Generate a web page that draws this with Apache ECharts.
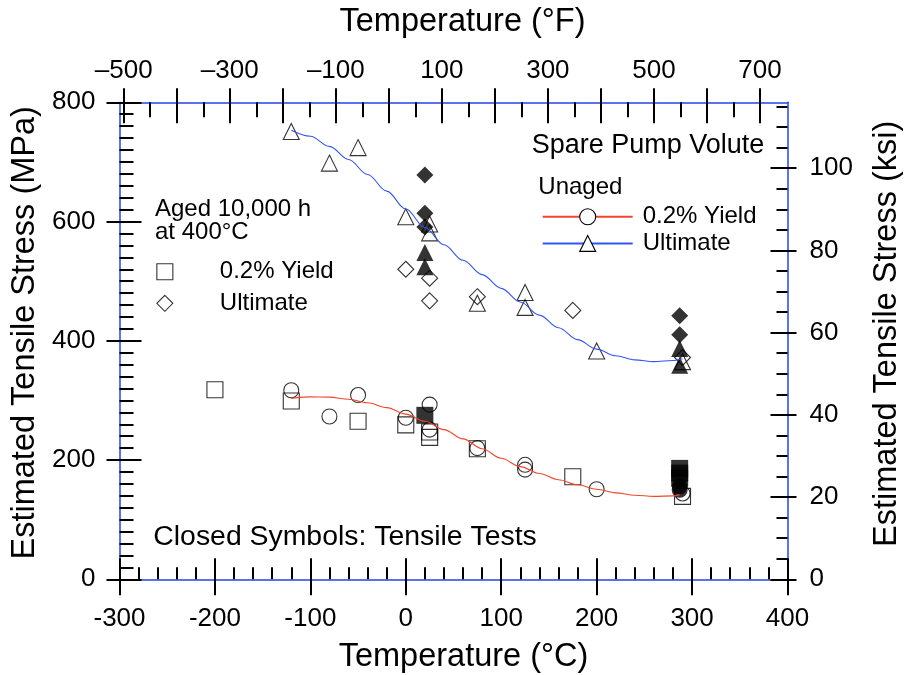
<!DOCTYPE html>
<html>
<head>
<meta charset="utf-8">
<script src="https://cdn.jsdelivr.net/npm/echarts@6/dist/echarts.min.js"></script>
<style>
  html, body { margin: 0; padding: 0; background: #fff; }
  #chart { width: 906px; height: 675px; }
</style>
</head>
<body>
<div id="chart"></div>
<script>
// Temperatures in °C, stresses in MPa.

// Unaged, 0.2% yield (open circles)
const unagedYieldC   = [-120, -80, -50, 0, 25, 25, 75, 125, 125, 200, 290];
const unagedYieldMPa = [317, 273, 309, 271, 293, 251, 220, 192, 184, 151, 144];
// Unaged, ultimate (open triangles)
const unagedUltC   = [-120, -80, -50, 0, 25, 25, 75, 125, 125, 200, 290];
const unagedUltMPa = [751, 698, 724, 608, 596, 581, 463, 481, 456, 383, 365];
// Aged 10,000 h at 400°C, 0.2% yield (open squares)
const agedYieldC   = [-200, -120, -50, 0, 25, 25, 75, 175, 290];
const agedYieldMPa = [318, 299, 265, 259, 247, 238, 219, 172, 139];
// Aged 10,000 h at 400°C, ultimate (open diamonds)
const agedUltC   = [0, 25, 25, 75, 175, 290];
const agedUltMPa = [520, 505, 467, 474, 451, 372];

// Tensile tests (closed symbols)
const ttAgedUltC     = [20, 20, 20, 287, 287];
const ttAgedUltMPa   = [678, 614, 591, 442, 410];
const ttUnagedUltC   = [20, 20, 287, 287];
const ttUnagedUltMPa = [548, 524, 387, 359];
const ttAgedYieldC   = [20, 287, 287, 287];
const ttAgedYieldMPa = [275, 186, 178, 170];
const ttUnagedYieldC   = [287, 287];
const ttUnagedYieldMPa = [150, 156];

// Fitted trend curves for the unaged material
const yieldFitC   = [-120, -100, -80, -60, -40, -20, 0, 20, 40, 60, 80, 100, 120, 140, 160, 180, 200, 220, 240, 260, 280, 287];
const yieldFitMPa = [303.5, 306, 305.5, 302, 296, 288, 277, 265, 251, 235.5, 219, 203, 189, 177.5, 167, 158.5, 151, 145, 141, 139, 140, 142];
const ultFitC   = [-120, -100, -80, -60, -40, -20, 0, 20, 40, 60, 80, 100, 120, 140, 160, 180, 200, 220, 240, 260, 280, 290];
const ultFitMPa = [753, 743, 726, 704, 679, 651, 621, 590, 561, 535, 511, 488, 465, 443, 422, 402, 386, 375, 368, 365, 367, 370];

// Axis ticks
const fahrenheitLabels = [-500, -300, -100, 100, 300, 500, 700];
const fahrenheitMajor  = [-500, -400, -300, -200, -100, 0, 100, 200, 300, 400, 500, 600, 700];
const fahrenheitMinor  = [-450, -350, -250, -150, -50, 50, 150, 250, 350, 450, 550, 650];
const ksiLabels = [0, 20, 40, 60, 80, 100];
const ksiMinor  = [5, 10, 15, 25, 30, 35, 45, 50, 55, 65, 70, 75, 85, 90, 95, 105, 110, 115];

const C_MIN = -300, C_MAX = 400, MPA_MAX = 800;
const MPA_PER_KSI = 6.894757;

const FONT = '"Liberation Sans", Arial, Helvetica, sans-serif';
const AXIS_BLUE = '#2244ee';
const FIT_BLUE = '#3355ee';
const FIT_RED = '#f2462c';
const TITLE_SIZE = 32.5;
const tickLine = { color: '#000', width: 2 };
const blueLine = { show: true, onZero: false, lineStyle: { color: AXIS_BLUE, width: 1.5 } };
const noLine = { show: false, onZero: false };

const zip = (xs, ys) => xs.map((x, i) => [x, ys[i]]);
const stripPrefix = name => name.replace(/^\S+\s/, '');

function openScatter(name, xs, ys, symbol, size) {
  return {
    type: 'scatter', name, symbol, symbolSize: size, data: zip(xs, ys), silent: true,
    itemStyle: { color: 'rgba(0,0,0,0)', borderColor: '#000', borderWidth: 1.1 }
  };
}
function filledScatter(name, xs, ys, symbol, size) {
  return {
    type: 'scatter', name, symbol, symbolSize: size, data: zip(xs, ys), silent: true,
    itemStyle: { color: '#000' }
  };
}
function fitLine(name, xs, ys, color, symbol) {
  return {
    type: 'line', name, data: zip(xs, ys), smooth: 0.35, smoothMonotone: 'x',
    showSymbol: false, symbol, silent: true,
    lineStyle: { color, width: 1.1 }, itemStyle: { color }
  };
}
function titleStyle(shift) {
  return { fontSize: TITLE_SIZE, color: '#000', fontFamily: FONT, padding: [0, 0, 0, shift] };
}

const chart = echarts.init(document.getElementById('chart'), null, { renderer: 'canvas' });

chart.setOption({
  animation: false,
  backgroundColor: '#fff',
  textStyle: { fontFamily: FONT, color: '#000' },
  grid: { left: 119.5, right: 118.5, top: 102.3, bottom: 95.7, containLabel: false, outerBoundsMode: 'none' },
  xAxis: [
    { // °C, bottom
      type: 'value', position: 'bottom', min: C_MIN, max: C_MAX, interval: 100,
      axisLine: blueLine,
      axisTick: { show: true, inside: true, length: 21, lineStyle: tickLine },
      minorTick: { show: true, splitNumber: 5, length: 12, lineStyle: tickLine },
      splitLine: { show: false }, minorSplitLine: { show: false },
      axisLabel: { fontSize: 26, color: '#000', margin: 27, fontFamily: FONT },
      name: 'Temperature (°C)', nameLocation: 'middle', nameGap: 61.5,
      nameTextStyle: titleStyle(20)
    },
    { // outward half of the °C major ticks
      type: 'value', position: 'bottom', min: C_MIN, max: C_MAX, interval: 100,
      axisLine: noLine,
      axisTick: { show: true, inside: false, length: 16, lineStyle: tickLine },
      axisLabel: { show: false }, splitLine: { show: false }
    },
    { // °F, top
      type: 'value', position: 'top', min: C_MIN * 1.8 + 32, max: C_MAX * 1.8 + 32,
      axisLine: blueLine,
      axisTick: { show: true, inside: true, length: 21, customValues: fahrenheitMajor, lineStyle: tickLine },
      axisLabel: {
        customValues: fahrenheitLabels, fontSize: 26, color: '#000', margin: 18, fontFamily: FONT,
        formatter: v => (v < 0 ? '\u2013' + Math.abs(v) : String(v))
      },
      splitLine: { show: false },
      name: 'Temperature (°F)', nameLocation: 'middle', nameGap: 64,
      nameTextStyle: titleStyle(18)
    },
    { // outward half of the °F major ticks
      type: 'value', position: 'top', min: C_MIN * 1.8 + 32, max: C_MAX * 1.8 + 32,
      axisLine: noLine,
      axisTick: { show: true, inside: false, length: 14, customValues: fahrenheitMajor, lineStyle: tickLine },
      axisLabel: { show: false }, splitLine: { show: false }
    },
    { // °F half-step ticks
      type: 'value', position: 'top', min: C_MIN * 1.8 + 32, max: C_MAX * 1.8 + 32,
      axisLine: noLine,
      axisTick: { show: true, inside: true, length: 15, customValues: fahrenheitMinor, lineStyle: tickLine },
      axisLabel: { show: false }, splitLine: { show: false }
    }
  ],
  yAxis: [
    { // MPa, left
      type: 'value', position: 'left', min: 0, max: MPA_MAX, interval: 200,
      axisLine: blueLine,
      axisTick: { show: true, inside: true, length: 22, lineStyle: tickLine },
      minorTick: { show: true, splitNumber: 10, length: 14, lineStyle: tickLine },
      splitLine: { show: false }, minorSplitLine: { show: false },
      axisLabel: { fontSize: 26, color: '#000', margin: 24, fontFamily: FONT },
      name: 'Estimated Tensile Stress (MPa)', nameLocation: 'middle', nameGap: 71.5,
      nameTextStyle: titleStyle(16)
    },
    { // outward half of the MPa major ticks
      type: 'value', position: 'left', min: 0, max: MPA_MAX, interval: 200,
      axisLine: noLine,
      axisTick: { show: true, inside: false, length: 13, lineStyle: tickLine },
      axisLabel: { show: false }, splitLine: { show: false }
    },
    { // ksi, right
      type: 'value', position: 'right', min: 0, max: MPA_MAX / MPA_PER_KSI,
      axisLine: blueLine,
      axisTick: { show: true, inside: true, length: 17, customValues: ksiLabels, lineStyle: tickLine },
      axisLabel: { customValues: ksiLabels, fontSize: 26, color: '#000', margin: 22, fontFamily: FONT },
      splitLine: { show: false },
      name: 'Estimated Tensile Stress (ksi)', nameLocation: 'middle', nameGap: 83.5,
      nameTextStyle: titleStyle(14)
    },
    { // outward half of the ksi major ticks
      type: 'value', position: 'right', min: 0, max: MPA_MAX / MPA_PER_KSI,
      axisLine: noLine,
      axisTick: { show: true, inside: false, length: 9, customValues: ksiLabels, lineStyle: tickLine },
      axisLabel: { show: false }, splitLine: { show: false }
    },
    { // ksi minor ticks
      type: 'value', position: 'right', min: 0, max: MPA_MAX / MPA_PER_KSI,
      axisLine: noLine,
      axisTick: { show: true, inside: true, length: 11, customValues: ksiMinor, lineStyle: tickLine },
      axisLabel: { show: false }, splitLine: { show: false }
    }
  ],
  legend: [
    {
      data: ['Unaged 0.2% Yield', 'Unaged Ultimate'],
      orient: 'vertical', left: 541.7, top: 204.7, padding: 0,
      itemWidth: 90, itemHeight: 20, itemGap: 2.7, selectedMode: false,
      formatter: stripPrefix,
      textStyle: { fontSize: 24, lineHeight: 24, color: '#000', fontFamily: FONT, padding: [0, 0, 0, 5] },
      itemStyle: { color: '#fff', borderColor: '#000', borderWidth: 1.1 }
    },
    {
      data: ['Aged 0.2% Yield', 'Aged Ultimate'],
      orient: 'vertical', left: 156.3, top: 259.7, padding: 0,
      itemWidth: 16, itemHeight: 16, itemGap: 7.6, selectedMode: false,
      formatter: stripPrefix,
      textStyle: { fontSize: 24, lineHeight: 24, color: '#000', fontFamily: FONT, padding: [0, 0, 0, 42] },
      itemStyle: { color: 'rgba(0,0,0,0)', borderColor: '#000', borderWidth: 1.1 }
    }
  ],
  graphic: [
    { type: 'text', x: 531.7, y: 146, silent: true,
      style: { text: 'Spare Pump Volute', font: '27px ' + FONT, fill: '#000', verticalAlign: 'middle' } },
    { type: 'text', x: 538.3, y: 187, silent: true,
      style: { text: 'Unaged', font: '24px ' + FONT, fill: '#000', verticalAlign: 'middle' } },
    { type: 'text', x: 155, y: 209, silent: true,
      style: { text: 'Aged 10,000 h', font: '24px ' + FONT, fill: '#000', verticalAlign: 'middle' } },
    { type: 'text', x: 155, y: 232, silent: true,
      style: { text: 'at 400°C', font: '24px ' + FONT, fill: '#000', verticalAlign: 'middle' } },
    { type: 'text', x: 153.3, y: 537, silent: true,
      style: { text: 'Closed Symbols: Tensile Tests', font: '28.4px ' + FONT, fill: '#000', verticalAlign: 'middle' } }
  ],
  series: [
    fitLine('Unaged 0.2% Yield', yieldFitC, yieldFitMPa, FIT_RED, 'circle'),
    fitLine('Unaged Ultimate', ultFitC, ultFitMPa, FIT_BLUE, 'triangle'),
    openScatter('Unaged 0.2% Yield', unagedYieldC, unagedYieldMPa, 'circle', 15),
    openScatter('Unaged Ultimate', unagedUltC, unagedUltMPa, 'triangle', 16),
    openScatter('Aged 0.2% Yield', agedYieldC, agedYieldMPa, 'rect', 16),
    openScatter('Aged Ultimate', agedUltC, agedUltMPa, 'diamond', 16),
    filledScatter('Tested aged ultimate', ttAgedUltC, ttAgedUltMPa, 'diamond', 17),
    filledScatter('Tested unaged ultimate', ttUnagedUltC, ttUnagedUltMPa, 'triangle', 17),
    filledScatter('Tested aged yield', ttAgedYieldC, ttAgedYieldMPa, 'rect', 17),
    filledScatter('Tested unaged yield', ttUnagedYieldC, ttUnagedYieldMPa, 'circle', 16)
  ]
});
</script>
</body>
</html>
